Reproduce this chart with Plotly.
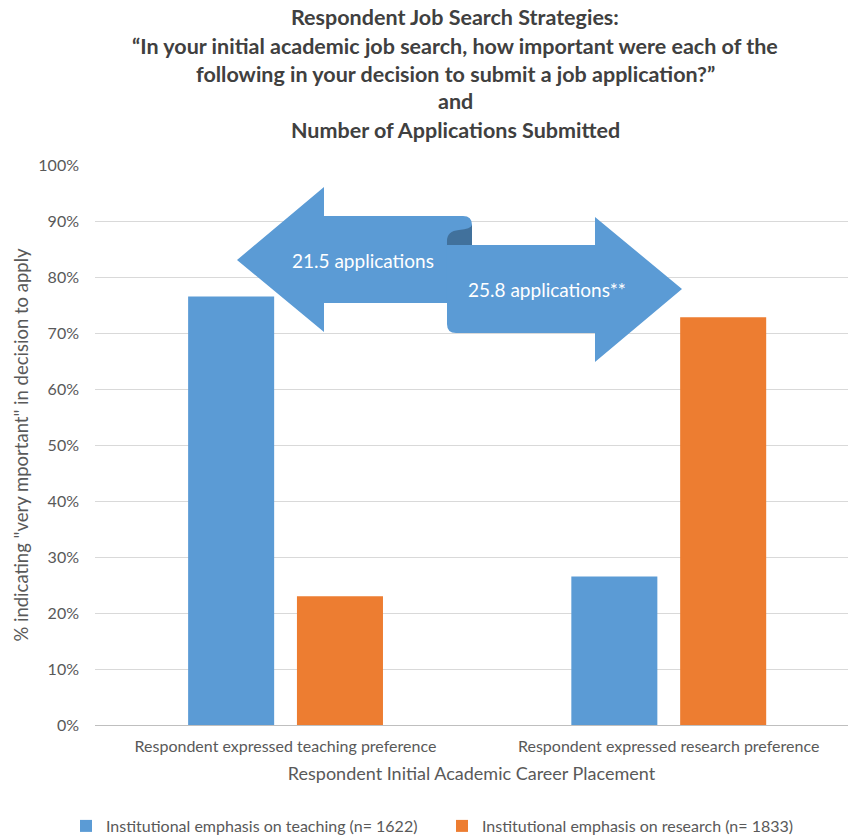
import plotly.graph_objects as go

# ---- data ----
categories = ["Respondent expressed teaching preference",
              "Respondent expressed research preference"]
teaching_emphasis = [76.5, 26.5]
research_emphasis = [23.0, 72.8]
series_names = ["Institutional emphasis on teaching (n= 1622)",
                "Institutional emphasis on research (n= 1833)"]
arrow_labels = ["21.5 applications", "25.8 applications**"]
title_lines = ["Respondent Job Search Strategies:",
               "\u201cIn your initial academic job search, how important were each of the",
               "following in your decision to submit a job application?\u201d",
               "and",
               "Number of Applications Submitted"]
y_ticks = [0, 10, 20, 30, 40, 50, 60, 70, 80, 90, 100]
y_tick_labels = ["0%", "10%", "20%", "30%", "40%", "50%", "60%", "70%", "80%", "90%", "100%"]

# ---- styling / layout constants ----
W, H = 851, 835
L, R, T, B = 95, 848, 165, 725
BLUE = "#5B9BD5"
ORANGE = "#ED7D31"
DARK = "#41719C"
FONT = "Lato, 'Open Sans', sans-serif"
TXT = "#595959"


def px(x):
    return (x - L) / (R - L)


def py(y):
    return (B - y) / (B - T)


def path(points_cmds):
    out = []
    for c in points_cmds:
        if c[0] in "ML":
            out.append(f"{c[0]}{px(c[1]):.5f},{py(c[2]):.5f}")
        elif c[0] == "Q":
            out.append(f"Q{px(c[1]):.5f},{py(c[2]):.5f} {px(c[3]):.5f},{py(c[4]):.5f}")
        elif c[0] == "Z":
            out.append("Z")
    return " ".join(out)


fig = go.Figure()
fig.add_trace(go.Bar(x=categories, y=teaching_emphasis, name=series_names[0],
                     marker=dict(color=BLUE, line=dict(width=0)),
                     width=0.2245, offset=-0.254))
fig.add_trace(go.Bar(x=categories, y=research_emphasis, name=series_names[1],
                     marker=dict(color=ORANGE, line=dict(width=0)),
                     width=0.2245, offset=0.03))

shapes = []
# left arrow
shapes.append(dict(type="path", xref="paper", yref="paper", layer="above",
                   fillcolor=BLUE, line=dict(width=0),
                   path=path([("M", 237, 260), ("L", 324, 187), ("L", 324, 216),
                              ("L", 463, 216), ("Q", 472, 216, 472, 225),
                              ("L", 472, 245), ("L", 447, 245), ("L", 447, 303),
                              ("L", 324, 303), ("L", 324, 332), ("Z",)])))
# fold
shapes.append(dict(type="path", xref="paper", yref="paper", layer="above",
                   fillcolor=DARK, line=dict(width=0),
                   path=path([("M", 447, 246), ("L", 447, 241), ("Q", 447, 231, 459, 230),
                              ("Q", 471, 229, 472, 225), ("L", 472, 246), ("Z",)])))
# right arrow
shapes.append(dict(type="path", xref="paper", yref="paper", layer="above",
                   fillcolor=BLUE, line=dict(width=0),
                   path=path([("M", 447, 245), ("L", 595, 245), ("L", 595, 217),
                              ("L", 682, 289), ("L", 595, 362), ("L", 595, 333),
                              ("L", 456, 333), ("Q", 447, 333, 447, 324), ("Z",)])))

annotations = []
title_y = [17, 46, 74, 101, 130]
for line, yy in zip(title_lines, title_y):
    annotations.append(dict(text=f"<b>{line}</b>", x=px(455), y=py(yy),
                            xref="paper", yref="paper", showarrow=False,
                            xanchor="center", yanchor="middle",
                            font=dict(family=FONT, size=21.5, color="#404040")))
annotations.append(dict(text=arrow_labels[0], x=px(363), y=py(260), xref="paper", yref="paper",
                        showarrow=False, xanchor="center", yanchor="middle",
                        font=dict(family=FONT, size=19, color="white")))
annotations.append(dict(text=arrow_labels[1], x=px(547), y=py(289), xref="paper", yref="paper",
                        showarrow=False, xanchor="center", yanchor="middle",
                        font=dict(family=FONT, size=19, color="white")))

fig.update_layout(
    width=W, height=H,
    margin=dict(l=L, r=W - R, t=T, b=H - B, autoexpand=False),
    paper_bgcolor="white", plot_bgcolor="white",
    barmode="overlay",
    font=dict(family=FONT, color=TXT),
    shapes=shapes, annotations=annotations,
    showlegend=True,
    legend=dict(orientation="h", x=px(66), xanchor="left", y=py(826), yanchor="middle",
                font=dict(family=FONT, size=16, color=TXT), entrywidth=331,
                entrywidthmode="pixels", itemclick=False, bgcolor="rgba(0,0,0,0)"),
    xaxis=dict(type="category", range=[-0.497, 1.468], showgrid=False, showline=False,
               ticks="", tickfont=dict(family=FONT, size=16, color=TXT), ticklabelstandoff=10,
               title=dict(text="Respondent Initial Academic Career Placement",
                          font=dict(family=FONT, size=18, color=TXT), standoff=13)),
    yaxis=dict(range=[0, 100], tickmode="array", tickvals=y_ticks, ticktext=y_tick_labels,
               showgrid=True,
               gridcolor="#D9D9D9", gridwidth=1, zeroline=True, zerolinecolor="#BFBFBF",
               zerolinewidth=1, showline=False, ticks="",
               tickfont=dict(family=FONT, size=16, color=TXT), ticklabelstandoff=15,
               title=dict(text='% indicating "very mportant" in decision to apply',
                          font=dict(family=FONT, size=18.5, color=TXT), standoff=4)),
)

fig.write_html("out.html")
